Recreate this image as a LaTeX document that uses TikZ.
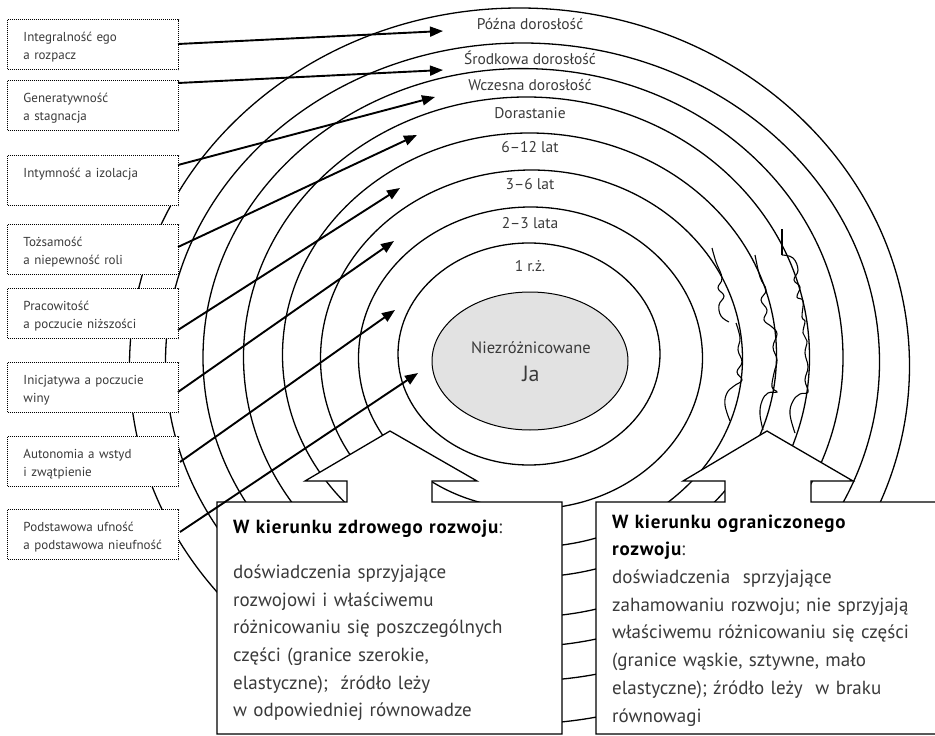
\documentclass[tikz,border=0pt]{standalone}
\usepackage{fontspec}
\setmainfont{PT Sans}
\usetikzlibrary{arrows.meta,shapes.geometric}
\definecolor{txt}{HTML}{3A3A3A}
\definecolor{jafill}{HTML}{E2E2E2}
\newcommand\bxt[2]{\rule{0pt}{15pt}\mbox{\hspace{12pt}#1}\\\mbox{\hspace{12pt}#2}\rule[-3.5pt]{0pt}{3.5pt}}
\newcommand\ttl[1]{{\color{black}\bfseries\addfontfeatures{LetterSpace=4}#1}}
\begin{document}
\begin{tikzpicture}[x=1pt,y=-1pt,
  ring/.style={line width=1.3pt},
  arr/.style={line width=1.9pt,-{Triangle[length=13pt,width=10pt]}},
  lbox/.style={draw,dash pattern=on 1pt off 1pt,line width=1pt,fill=white,
    minimum width=171pt,minimum height=50pt,anchor=north west,
    text width=163pt,inner xsep=4pt,inner ysep=0pt,align=left,
    font=\fontsize{13}{18.5}\selectfont,text=txt},
  rlabel/.style={anchor=base,inner sep=0pt,font=\fontsize{15.5}{17}\selectfont,text=txt},
  ctext/.style={anchor=north west,inner sep=0pt,align=left,
    font=\fontsize{19}{27.7}\selectfont,text=txt},
  callout/.style={draw,line width=1.3pt,fill=white,line join=miter},
  squig/.style={line width=1.1pt}
]
\useasboundingbox (0,0) rectangle (935,736);
% rings
\draw[ring] (519.5,366) ellipse [x radius=390pt, y radius=358pt];
\draw[ring] (522.5,362) ellipse [x radius=357pt, y radius=319pt];
\draw[ring] (523,357.6) ellipse [x radius=320pt, y radius=289pt];
\draw[ring] (526.5,357) ellipse [x radius=283pt, y radius=260pt];
\draw[ring] (529.5,355) ellipse [x radius=247pt, y radius=222pt];
\draw[ring] (531.5,358.5) ellipse [x radius=211pt, y radius=188.5pt];
\draw[ring] (530.5,358) ellipse [x radius=172pt, y radius=151pt];
\draw[ring] (529,354) ellipse [x radius=131pt, y radius=111pt];
% central self
\node[ellipse,draw,line width=1pt,fill=jafill,minimum width=196pt,minimum height=138pt,inner sep=0pt] (ja) at (530,361) {};
\node[anchor=base,inner sep=0pt,font=\fontsize{16.5}{18}\selectfont,text=txt] (ja1) at (531,353) {Niezróżnicowane};
\node[anchor=base,inner sep=0pt,font=\fontsize{22}{24}\selectfont,text=txt] (ja2) at (531,381) {Ja};
% ring labels
\node[rlabel] (l8) at (530,30) {Późna dorosłość};
\node[rlabel] (l7) at (530,64) {Środkowa dorosłość};
\node[rlabel] (l6) at (530,90) {Wczesna dorosłość};
\node[rlabel] (l5) at (530,118) {Dorastanie};
\node[rlabel] (l4) at (530,152) {6–12 lat};
\node[rlabel] (l3) at (530,189) {3–6 lat};
\node[rlabel] (l2) at (530,228) {2–3 lata};
\node[rlabel] (l1) at (530,271) {1 r.ż.};
% squiggles (rigid boundaries)
\draw[squig] plot[smooth,tension=0.7] coordinates {(712,248) (716,262) (722,278) (718,288) (724,296) (719,305) (721,316) (729,322)};
\draw[squig] plot[smooth,tension=0.7] coordinates {(736,323) (740,338) (738,350) (742,362) (737,372) (742,380) (734,386) (727,393) (725,405) (730,421)};
\draw[squig] plot[smooth,tension=0.7] coordinates {(755,255) (760,277) (766,290) (761,300) (767,310) (764,320) (772,327) (777,334) (773,347) (777,360) (774,373) (772,387) (777,392) (768,393) (762,401) (760,414) (763,430)};
\draw[squig] (782,229) -- (782,255);
\draw[squig] plot[smooth,tension=0.7] coordinates {(782,255) (793,258) (798,270) (794,280) (800,287) (797,297) (803,301) (802,317) (805,321) (803,333) (807,341) (805,353) (808,367) (805,380) (808,392) (800,394) (793,401) (790,414) (795,433)};
% callouts
\draw[callout] (217,734) -- (217,502) -- (347,502) -- (347,481) -- (305,481) -- (390,431) -- (477,481) -- (432,481) -- (432,502) -- (562,502) -- (562,734) -- cycle;
\draw[callout] (596,734) -- (596,502) -- (725,502) -- (725,481) -- (683,481) -- (767,431) -- (853,481) -- (811,481) -- (811,502) -- (945,502) -- (945,734) -- cycle;
\node[ctext,text width=320pt] (lt) at (233,513.6) {\strut\ttl{W kierunku zdrowego rozwoju}:\\[17.5pt]
doświadczenia sprzyjające\\
rozwojowi i właściwemu\\
różnicowaniu się poszczególnych\\
części (granice szerokie,\\
elastyczne);~ źródło leży\\
w odpowiedniej równowadze};
\node[ctext,text width=330pt] (rt) at (612,508.6) {\strut\ttl{W kierunku ograniczonego}\\
\ttl{rozwoju}:\\
doświadczenia~ sprzyjające\\
zahamowaniu rozwoju; nie sprzyjają\\
właściwemu różnicowaniu się części\\
(granice wąskie, sztywne, mało\\
elastyczne); źródło leży~ w braku\\
równowagi};
% left boxes
\node[lbox] (b1) at (7,19) {\bxt{Integralność ego}{a rozpacz}};
\node[lbox] (b2) at (7,80) {\bxt{Generatywność}{a stagnacja}};
\node[lbox] (b3) at (7,155) {\bxt{Intymność a izolacja}{}};
\node[lbox] (b4) at (7,224) {\bxt{Tożsamość}{a niepewność roli}};
\node[lbox] (b5) at (7,288) {\bxt{Pracowitość}{a poczucie niższości}};
\node[lbox] (b6) at (7,362) {\bxt{Inicjatywa a poczucie}{winy}};
\node[lbox] (b7) at (7,436) {\bxt{Autonomia a wstyd}{i zwątpienie}};
\node[lbox] (b8) at (7,509) {\bxt{Podstawowa ufność}{a podstawowa nieufność}};
% arrow ends
\coordinate (s1) at (178,44);  \coordinate (t1) at (443,31);
\coordinate (s2) at (178,83);  \coordinate (t2) at (443,70);
\coordinate (s3) at (178,165); \coordinate (t3) at (435,97);
\coordinate (s4) at (178,247); \coordinate (t4) at (417,135);
\coordinate (s5) at (178,330); \coordinate (t5) at (400,188);
\coordinate (s6) at (178,392); \coordinate (t6) at (394,241);
\coordinate (s7) at (180,462); \coordinate (t7) at (395,310);
\coordinate (s8) at (180,532); \coordinate (t8) at (418,373);
\foreach \i in {1,...,8} \draw[arr] (s\i) -- (t\i);
\end{tikzpicture}
\end{document}
